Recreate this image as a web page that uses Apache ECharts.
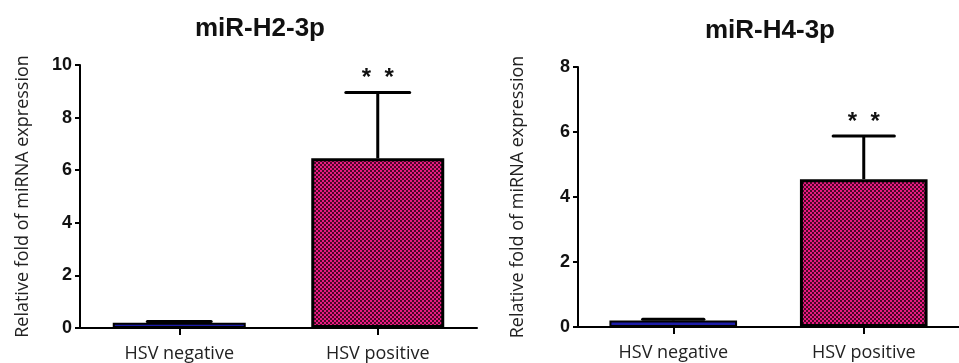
<!DOCTYPE html>
<html><head><meta charset="utf-8">
<script src="https://cdn.jsdelivr.net/npm/echarts@6/dist/echarts.min.js"></script>
<style>html,body{margin:0;padding:0;background:#fff}#c{width:959px;height:363px}</style>
</head><body><div id="c"></div>
<script>
var categories = ['HSV negative', 'HSV positive'];
var titles = ['miR-H2-3p', 'miR-H4-3p'];
var h2Values = [0.2, 6.45];
var h2Errors = [0.05, 2.5];
var h4Values = [0.2, 4.55];
var h4Errors = [0.04, 1.33];
var sigMarks = ['', '*  *'];
var h2Ticks = [0, 2, 4, 6, 8, 10];
var h4Ticks = [0, 2, 4, 6, 8];

function makePattern() {
  var cv = document.createElement('canvas');
  cv.width = 4; cv.height = 4;
  var ctx = cv.getContext('2d');
  ctx.fillStyle = '#ea1a82'; ctx.fillRect(0, 0, 4, 4);
  ctx.fillStyle = '#4a0828';
  ctx.fillRect(0, 0, 2, 2); ctx.fillRect(2, 2, 2, 2);
  return { image: cv, repeat: 'repeat' };
}
var pat = makePattern();

var chart = echarts.init(document.getElementById('c'), null, {renderer: 'canvas'});
var font = 'Liberation Sans';

function yAxis(idx, ticks, gap) {
  return {
    type: 'value', gridIndex: idx, min: ticks[0], max: ticks[ticks.length - 1], interval: 2,
    name: 'Relative fold of miRNA expression', nameLocation: 'middle', nameGap: gap,
    nameTextStyle: {fontFamily: 'Open Sans', fontSize: 18, color: '#222'},
    axisLine: {show: true, lineStyle: {color: '#000', width: 2}},
    axisTick: {show: true, length: 5, lineStyle: {color: '#000', width: 2}},
    axisLabel: {fontFamily: font, fontWeight: 'bold', fontSize: 18, color: '#111', margin: 8},
    splitLine: {show: false}
  };
}
function xAxis(idx) {
  return {
    type: 'category', gridIndex: idx, data: categories,
    axisLine: {show: true, lineStyle: {color: '#000', width: 2}},
    axisTick: {show: true, alignWithLabel: true, length: 7, lineStyle: {color: '#000', width: 2}},
    axisLabel: {fontFamily: 'Open Sans', fontSize: 18, color: '#222', margin: 17}
  };
}
function barSeries(idx, vals) {
  return {
    type: 'bar', xAxisIndex: idx, yAxisIndex: idx, barWidth: '67%',
    data: vals.map(function (v, i) {
      return {value: v, itemStyle: {color: i === 0 ? '#1c1ca8' : pat, borderColor: '#000', borderWidth: i === 0 ? 2 : 3}};
    }),
    z: 2
  };
}
function errSeries(idx, vals, errs) {
  return {
    type: 'custom', xAxisIndex: idx, yAxisIndex: idx, z: 3,
    data: vals.map(function (v, i) { return [i, v, v + errs[i]]; }),
    renderItem: function (params, api) {
      var i = api.value(0);
      var base = api.coord([i, api.value(1)]);
      var top = api.coord([i, api.value(2)]);
      var bw = api.size([1, 0])[0] * 0.67;
      var cap = bw * 0.24;
      var children = [
        {type: 'line', shape: {x1: base[0], y1: base[1], x2: top[0], y2: top[1]}, style: {stroke: '#000', lineWidth: 3}},
        {type: 'line', shape: {x1: top[0] - cap, y1: top[1], x2: top[0] + cap, y2: top[1]}, style: {stroke: '#000', lineWidth: 3, lineCap: 'round'}}
      ];
      if (sigMarks[i]) {
        children.push({type: 'text', x: top[0], y: top[1] - 14, style: {text: sigMarks[i], fontFamily: font, fontSize: 24, fontWeight: 'bold', fill: '#111', align: 'center', verticalAlign: 'middle'}});
      }
      return {type: 'group', children: children};
    }
  };
}

chart.setOption({
  animation: false,
  title: [
    {text: titles[0], left: 255, top: 11, textAlign: 'center', textStyle: {fontFamily: font, fontWeight: 'bold', fontSize: 26, color: '#111'}},
    {text: titles[1], left: 765, top: 13, textAlign: 'center', textStyle: {fontFamily: font, fontWeight: 'bold', fontSize: 26, color: '#111'}}
  ],
  grid: [
    {left: 80, right: 482, top: 65, bottom: 35},
    {left: 578, right: -10, top: 67, bottom: 36}
  ],
  xAxis: [xAxis(0), xAxis(1)],
  yAxis: [yAxis(0, h2Ticks, 48), yAxis(1, h4Ticks, 51)],
  series: [barSeries(0, h2Values), errSeries(0, h2Values, h2Errors), barSeries(1, h4Values), errSeries(1, h4Values, h4Errors)]
});
</script></body></html>
